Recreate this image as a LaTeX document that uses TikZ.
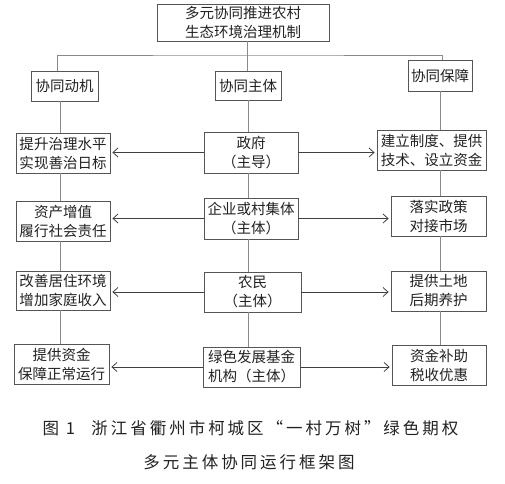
\documentclass[tikz,border=0pt]{standalone}
\usepackage{fontspec}
\setmainfont{Noto Sans CJK SC}
\newfontfamily\capfont[LetterSpace=18]{Noto Sans CJK SC}
\usetikzlibrary{arrows.meta}
\definecolor{boxline}{HTML}{555555}
\definecolor{conn}{HTML}{8A8A8A}
\definecolor{txt}{HTML}{222222}
\begin{document}
\begin{tikzpicture}[x=1pt,y=-1pt,
  box/.style={draw=boxline,line width=0.8pt,fill=white,text=txt,inner sep=0pt,align=center,
    font=\fontsize{14.5pt}{19pt}\selectfont},
  link/.style={draw=conn,line width=0.8pt},
  arr/.style={draw=black!75,line width=0.8pt,-{Straight Barb[length=5pt,width=9pt]},shorten >=2pt}]
\useasboundingbox (0,0) rectangle (505,483);
% nodes
\node[box,minimum width=172pt,minimum height=37pt] (top) at (243,22.5) {多元协同推进农村\\生态环境治理机制};
\node[box,minimum width=67pt,minimum height=30pt] (h1) at (64.5,86) {协同动机};
\node[box,minimum width=66pt,minimum height=29pt] (h2) at (248,85.5) {协同主体};
\node[box,minimum width=64pt,minimum height=31pt] (h3) at (440,75.5) {协同保障};
\coordinate (bar) at (247,55);
\coordinate (colL) at (60,100);
\node[box,minimum width=94pt,minimum height=40pt] (l1) at (63,153) {提升治理水平\\实现善治日标};
\node[box,minimum width=94pt,minimum height=41pt] (c1) at (251,152.5) {政府\\（主导）};
\node[box,minimum width=109pt,minimum height=40pt] (r1) at (431.5,150) {建立制度、提供\\技术、设立资金};
\node[box,minimum width=94pt,minimum height=40pt] (l2) at (63,221) {资产增值\\履行社会责任};
\node[box,minimum width=94pt,minimum height=41pt] (c2) at (251,218.5) {企业或村集体\\（主体）};
\node[box,minimum width=95pt,minimum height=40pt] (r2) at (438.5,216) {落实政策\\对接市场};
\node[box,minimum width=94pt,minimum height=39pt] (l3) at (63,290.5) {改善居住环境\\增加家庭收入};
\node[box,minimum width=97pt,minimum height=40pt] (c3) at (252.5,292) {农民\\（主体）};
\node[box,minimum width=95pt,minimum height=40pt] (r3) at (438.5,291) {提供土地\\后期养护};
\node[box,minimum width=95pt,minimum height=40pt] (l4) at (61.5,364) {提供资金\\保障正常运行};
\node[box,minimum width=97pt,minimum height=40pt] (c4) at (251.5,367) {绿色发展基金\\机构（主体）};
\node[box,minimum width=94pt,minimum height=40pt] (r4) at (439,365) {资金补助\\税收优惠};
% tree lines
\draw[link] (top.south -| bar) -- (bar);
\draw[link] ([xshift=-7pt]h1.north) |- (bar) -| ([xshift=2pt]h3.north);
\draw[link] (bar) -- (h2.north -| bar);
% verticals
\foreach \a/\b in {h1/l1,l1/l2,l2/l3,l3/l4}
  \draw[link] (\a.south -| colL) -- (\b.north -| colL);
\foreach \a/\b in {h2/c1,c1/c2,c2/c3,c3/c4}
  \draw[link] (\a.south -| h2) -- (\b.north -| h2);
\foreach \a/\b in {h3/r1,r1/r2,r2/r3,r3/r4}
  \draw[link] (\a.south -| h3) -- (\b.north -| h3);
% arrows
\draw[arr] (c1.west) -- (c1.west -| l1.east);
\draw[arr] (c1.east) -- (c1.east -| r1.west);
\draw[arr] (c2.west) -- (c2.west -| l2.east);
\draw[arr] (c2.east) -- (c2.east -| r2.west);
\draw[arr] (c3.west) -- (c3.west -| l3.east);
\draw[arr] (c3.east) -- (c3.east -| r3.west);
\draw[arr] (c4.west) -- (c4.west -| l4.east);
\draw[arr] (c4.east) -- (c4.east -| r4.west);
% caption
\node[text=txt,font=\capfont\fontsize{16.5pt}{19pt}\selectfont,inner sep=0pt] (cap1) at (250.5,428) {图 1\hspace{1em}浙江省衢州市柯城区“一村万树”绿色期权};
\node[text=txt,font=\capfont\fontsize{16.5pt}{19pt}\selectfont,inner sep=0pt] (cap2) at (249,462) {多元主体协同运行框架图};
\end{tikzpicture}
\end{document}
